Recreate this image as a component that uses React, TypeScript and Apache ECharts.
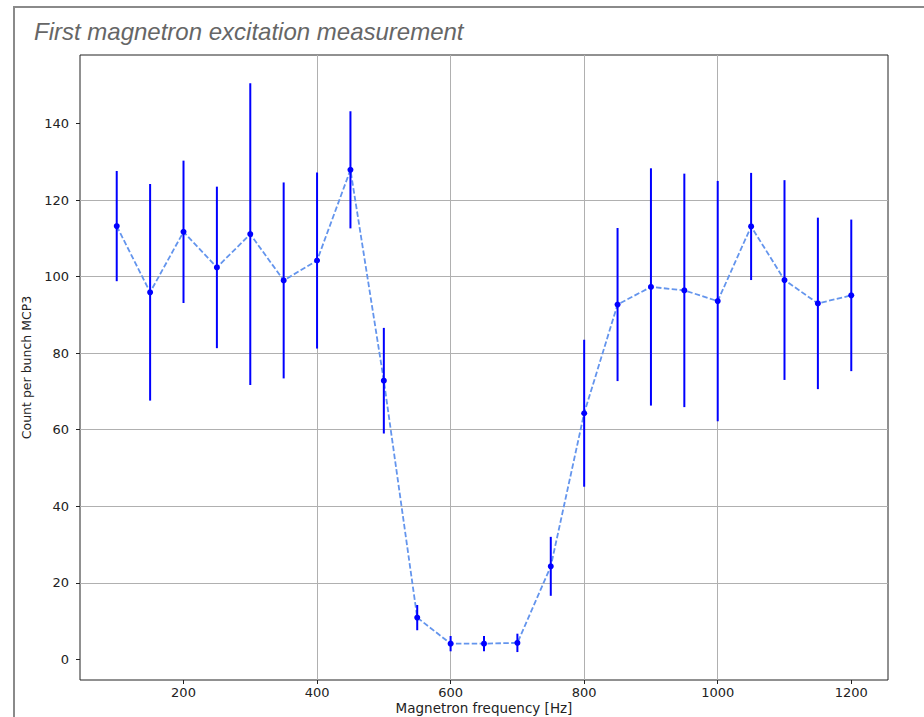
import React, { useEffect, useRef } from "react";
import * as echarts from "echarts";

const titleText = "First magnetron excitation measurement";
const xAxisTitle = "Magnetron frequency [Hz]";
const yAxisTitle = "Count per bunch MCP3";

const frequencies = [100, 150, 200, 250, 300, 350, 400, 450, 500, 550, 600, 650, 700, 750, 800, 850, 900, 950, 1000, 1050, 1100, 1150, 1200];
const counts = [113.2, 95.9, 111.7, 102.4, 111.1, 99.0, 104.2, 127.9, 72.8, 10.9, 4.1, 4.1, 4.3, 24.3, 64.3, 92.7, 97.3, 96.4, 93.6, 113.1, 99.1, 93.0, 95.1];
const errors = [14.4, 28.3, 18.6, 21.1, 39.4, 25.6, 23.0, 15.3, 13.8, 3.3, 2.0, 2.0, 2.4, 7.7, 19.2, 20.0, 31.0, 30.5, 31.4, 14.0, 26.1, 22.4, 19.8];

const xTicks = [200, 400, 600, 800, 1000, 1200];
const yTicks = [0, 20, 40, 60, 80, 100, 120, 140];

const xRange = [45, 1255];
const yRange = [-5.4, 157.9];

export default function App() {
  const ref = useRef<HTMLDivElement>(null);

  useEffect(() => {
    if (!ref.current) return;
    const chart = echarts.init(ref.current, undefined, { renderer: "svg" });

    const lineData = frequencies.map((f, i) => [f, counts[i]]);
    const errData = frequencies.map((f, i) => [f, counts[i], errors[i]]);

    const tickFont = {
      fontFamily: "DejaVu Sans",
      fontSize: 13,
      color: "#222",
      formatter: (v: number) => String(v),
    };

    chart.setOption({
      animation: false,
      backgroundColor: "#ffffff",
      title: {
        text: titleText,
        left: 34,
        top: 19,
        padding: 0,
        textStyle: {
          fontFamily: "Liberation Sans",
          fontStyle: "italic",
          fontWeight: "normal",
          fontSize: 24,
          color: "#666666",
        },
      },
      graphic: [
        {
          type: "rect",
          shape: { x: 14, y: 7, width: 940, height: 740 },
          style: { fill: "none", stroke: "#8a8a8a", lineWidth: 2 },
          silent: true,
        },
      ],
      grid: {
        left: 80,
        right: 36,
        top: 55,
        bottom: 37,
        show: true,
        borderColor: "#222",
        borderWidth: 1,
        backgroundColor: "transparent",
        containLabel: false,
        outerBoundsMode: "none",
      },
      xAxis: {
        type: "value",
        min: xRange[0],
        max: xRange[1],
        minInterval: 200,
        maxInterval: 200,
        name: xAxisTitle,
        nameLocation: "middle",
        nameGap: 21,
        nameMoveOverlap: false,
        nameTextStyle: { fontFamily: "DejaVu Sans", fontSize: 13.5, color: "#222", lineHeight: 14 },
        axisLine: { show: false, onZero: false },
        axisTick: { show: true, length: 4, lineStyle: { color: "#222", width: 1 }, customValues: xTicks },
        axisLabel: { ...tickFont, margin: 6, customValues: xTicks },
        splitLine: { show: true, showMinLine: false, showMaxLine: false, lineStyle: { color: "#b0b0b0", width: 1 } },
      },
      yAxis: {
        type: "value",
        min: yRange[0],
        max: yRange[1],
        minInterval: 20,
        maxInterval: 20,
        name: yAxisTitle,
        nameLocation: "middle",
        nameGap: 47,
        nameMoveOverlap: false,
        nameRotate: 90,
        nameTextStyle: { fontFamily: "DejaVu Sans", fontSize: 12.5, color: "#222" },
        axisLine: { show: false, onZero: false },
        axisTick: { show: true, length: 4, lineStyle: { color: "#222", width: 1 }, customValues: yTicks },
        axisLabel: { ...tickFont, margin: 11, customValues: yTicks },
        splitLine: { show: true, showMinLine: false, showMaxLine: false, lineStyle: { color: "#b0b0b0", width: 1 } },
      },
      series: [
        {
          type: "line",
          data: lineData,
          symbol: "circle",
          symbolSize: 6,
          itemStyle: { color: "#0000ff" },
          lineStyle: { color: "#6495ed", width: 1.8, type: [5.5, 2.4] },
          z: 2,
        },
        {
          type: "custom",
          data: errData,
          encode: { x: 0, y: 1 },
          z: 3,
          renderItem: (params: any, api: any) => {
            const x = api.value(0);
            const y = api.value(1);
            const e = api.value(2);
            const top = api.coord([x, y + e]);
            const bot = api.coord([x, y - e]);
            return {
              type: "line",
              shape: { x1: top[0], y1: top[1], x2: bot[0], y2: bot[1] },
              style: { stroke: "#0000ff", lineWidth: 2 },
            };
          },
        },
      ],
    });

    return () => chart.dispose();
  }, []);

  return (
    <div
      ref={ref}
      style={{ position: "fixed", left: 0, top: 0, width: 924, height: 717, background: "#fff" }}
    />
  );
}
